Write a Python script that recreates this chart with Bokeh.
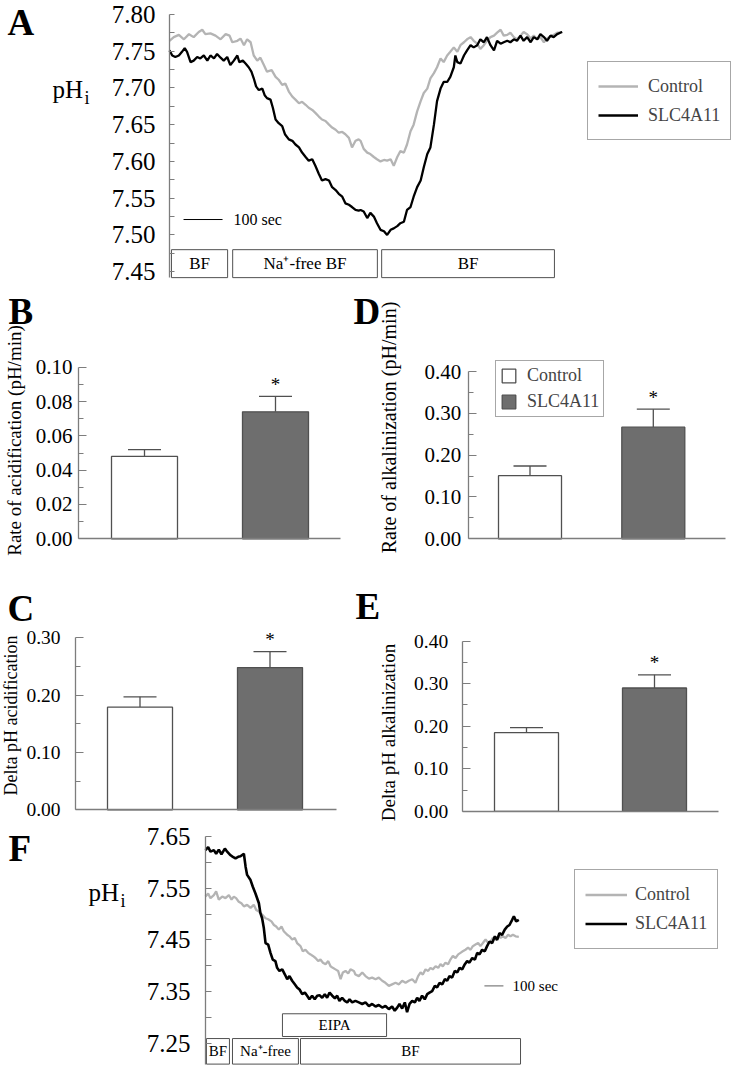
import math
from bokeh.plotting import figure
from bokeh.models import (Range1d, FixedTicker, PrintfTickFormatter, Label, Legend,
                          LegendItem, Whisker, TeeHead, ColumnDataSource)
from bokeh.layouts import column, row
from bokeh.embed import file_html
from bokeh.resources import INLINE
from bokeh.core.properties import value

# ---------------- Panel A: pHi traces (time in s, pHi) ----------------
A_CONTROL_T = [0, 11, 24, 37, 50, 62, 75, 84, 92, 105, 118, 131, 144, 154, 161, 174, 182, 191, 199, 208,
               216, 225, 233, 242, 250, 262, 272, 280, 289, 297, 306, 315, 323, 332, 340, 349, 357, 366,
               374, 383, 391, 400, 409, 417, 426, 434, 443, 451, 460, 468, 477, 485,
               490, 498, 507, 515, 524, 532, 541, 550, 558, 567, 575, 584, 592, 601, 609, 618, 626, 635,
               644, 652, 661, 669, 678, 686, 695, 703, 712, 720, 729, 738, 746, 755, 763, 772, 780, 789,
               797, 806, 814, 823, 832, 840, 849, 857, 866, 874, 883, 891, 900, 908, 917, 926, 934, 943,
               951, 960, 968, 977, 985, 994, 1002]
A_CONTROL_PH = [7.764, 7.769, 7.772, 7.766, 7.773, 7.769, 7.776, 7.779, 7.773, 7.774, 7.771, 7.766, 7.773,
                7.771, 7.762, 7.764, 7.767, 7.758, 7.766, 7.762, 7.744, 7.737, 7.741, 7.731, 7.722, 7.724,
                7.715, 7.711, 7.704, 7.706, 7.695, 7.688, 7.684, 7.679, 7.681, 7.677, 7.673, 7.670, 7.666,
                7.661, 7.657, 7.655, 7.650, 7.646, 7.643, 7.639, 7.640, 7.637, 7.632, 7.619, 7.628, 7.630,
                7.628, 7.617, 7.612, 7.610, 7.606, 7.603, 7.600, 7.602, 7.601, 7.603, 7.594, 7.606, 7.614,
                7.612, 7.623, 7.641, 7.650, 7.668, 7.682, 7.693, 7.699, 7.713, 7.720, 7.728, 7.740, 7.735,
                7.744, 7.749, 7.755, 7.749, 7.758, 7.762, 7.766, 7.769, 7.764, 7.760, 7.753, 7.758, 7.764,
                7.769, 7.771, 7.775, 7.779, 7.771, 7.772, 7.775, 7.769, 7.766, 7.771, 7.776, 7.773, 7.767,
                7.771, 7.766, 7.769, 7.762, 7.767, 7.770, 7.772, 7.775, 7.775]
A_SLC_T = [0, 7, 15, 24, 32, 39, 45, 54, 62, 71, 79, 88, 97, 105, 114, 122, 131, 139, 148, 156,
           165, 174, 179, 188, 195, 203, 210, 216, 222, 229, 238, 244, 250, 259, 265, 272, 280, 289, 296, 306,
           315, 323, 332, 340, 349, 357, 366, 374, 383, 391, 400, 409, 417, 426, 434, 443, 451, 460, 468, 477,
           485,
           490, 498, 507, 515, 524, 532, 541, 550, 558, 567, 575, 584, 592, 601, 609, 618, 626, 635, 644, 652,
           661, 669, 678, 686, 695, 703, 712, 720, 729, 733, 738, 746, 755, 763, 772, 780, 789, 797, 806, 814,
           823, 832, 840, 849, 857, 866, 874, 883, 891, 900, 908, 917, 926, 934, 943, 951, 960, 968, 977, 985,
           994, 1002, 1007]
A_SLC_PH = [7.751, 7.744, 7.742, 7.744, 7.749, 7.754, 7.749, 7.735, 7.737, 7.742, 7.740, 7.744, 7.737, 7.744,
            7.740, 7.746, 7.741, 7.737, 7.742, 7.731, 7.737, 7.744, 7.735, 7.737, 7.733, 7.728, 7.722, 7.713,
            7.702, 7.697, 7.699, 7.690, 7.686, 7.684, 7.673, 7.657, 7.652, 7.648, 7.637, 7.630, 7.628, 7.623,
            7.619, 7.612, 7.606, 7.601, 7.603, 7.594, 7.583, 7.574, 7.576, 7.574, 7.565, 7.561, 7.556, 7.552,
            7.543, 7.541, 7.538, 7.534, 7.533,
            7.534, 7.532, 7.523, 7.530, 7.525, 7.516, 7.507, 7.505, 7.500, 7.507, 7.509, 7.512, 7.516, 7.518,
            7.534, 7.538, 7.552, 7.565, 7.574, 7.592, 7.610, 7.619, 7.650, 7.682, 7.699, 7.708, 7.708, 7.715,
            7.728, 7.744, 7.735, 7.733, 7.744, 7.751, 7.758, 7.755, 7.758, 7.766, 7.762, 7.769, 7.758, 7.751,
            7.764, 7.760, 7.762, 7.764, 7.762, 7.766, 7.764, 7.771, 7.764, 7.769, 7.762, 7.769, 7.766, 7.773,
            7.769, 7.764, 7.771, 7.769, 7.773, 7.775, 7.776]
A_PERIODS = ["BF", "Na\u207a-free BF", "BF"]
A_PERIOD_START = [5, 162, 544]
A_PERIOD_END = [149, 533, 987]
A_TICKS = [7.45, 7.50, 7.55, 7.60, 7.65, 7.70, 7.75, 7.80]
A_MINOR = [7.475, 7.525, 7.575, 7.625, 7.675, 7.725, 7.775]

# ---------------- Panels B-E: bar charts ----------------
GROUPS = ["Control", "SLC4A11"]
SIGNIFICANT = [False, True]
B_RATE_ACIDIFICATION = [0.048, 0.074]
B_SEM = [0.004, 0.009]
D_RATE_ALKALINIZATION = [0.151, 0.267]
D_SEM = [0.023, 0.043]
C_DELTA_PH_ACIDIFICATION = [0.179, 0.248]
C_SEM = [0.018, 0.028]
E_DELTA_PH_ALKALINIZATION = [0.185, 0.290]
E_SEM = [0.012, 0.031]
B_TICKS = [0.0, 0.02, 0.04, 0.06, 0.08, 0.10]
B_MINOR = [0.01, 0.03, 0.05, 0.07, 0.09]
D_TICKS = [0.0, 0.1, 0.2, 0.3, 0.4]
D_MINOR = [0.05, 0.15, 0.25, 0.35]
C_TICKS = [0.0, 0.1, 0.2, 0.3]
C_MINOR = [0.05, 0.15, 0.25]
E_TICKS = [0.0, 0.1, 0.2, 0.3, 0.4]
E_MINOR = [0.05, 0.15, 0.25, 0.35]

# ---------------- Panel F: pHi traces with EIPA ----------------
F_CONTROL_T = [0, 14, 26, 44, 56, 70, 88, 105, 123, 137, 149, 161, 175, 189, 202, 219, 237, 254, 267, 281,
               298, 316, 330, 347, 360, 372, 386, 400, 412, 430, 442, 456, 470, 482, 500, 512, 526, 540, 553,
               565, 579, 593, 605, 618, 632, 646, 658, 670, 684, 698, 711, 723, 737, 751, 763, 781,
               789, 807, 825, 842, 860, 877, 895, 912, 930, 947, 965, 982, 1000, 1018, 1035, 1053, 1070, 1088,
               1105, 1119, 1132, 1144, 1158, 1172, 1184, 1196, 1211, 1225, 1237, 1249, 1263, 1277, 1289, 1302,
               1316, 1330, 1342, 1354, 1368, 1382, 1395, 1407, 1421, 1435, 1447, 1460, 1474, 1488, 1500, 1512,
               1526, 1540, 1553, 1565, 1579, 1593, 1605, 1618, 1632, 1649]
F_CONTROL_PH = [7.534, 7.540, 7.531, 7.537, 7.544, 7.528, 7.534, 7.531, 7.537, 7.528, 7.534, 7.531, 7.524,
                7.521, 7.515, 7.518, 7.512, 7.518, 7.508, 7.505, 7.499, 7.492, 7.490, 7.486, 7.479, 7.476,
                7.470, 7.476, 7.467, 7.460, 7.457, 7.451, 7.454, 7.444, 7.438, 7.428, 7.431, 7.425, 7.422,
                7.419, 7.415, 7.409, 7.412, 7.406, 7.403, 7.409, 7.399, 7.396, 7.393, 7.390, 7.374, 7.387,
                7.390, 7.385, 7.393, 7.390,
                7.383, 7.380, 7.387, 7.380, 7.375, 7.377, 7.374, 7.377, 7.371, 7.367, 7.361, 7.364, 7.367,
                7.364, 7.371, 7.367, 7.371, 7.374, 7.367, 7.380, 7.387, 7.383, 7.393, 7.390, 7.396, 7.393,
                7.399, 7.396, 7.403, 7.399, 7.406, 7.403, 7.412, 7.419, 7.415, 7.422, 7.425, 7.428, 7.431,
                7.435, 7.431, 7.438, 7.441, 7.444, 7.438, 7.444, 7.451, 7.444, 7.447, 7.454, 7.451, 7.457,
                7.454, 7.457, 7.454, 7.460, 7.457, 7.460, 7.457, 7.456]
F_SLC_T = [0, 14, 26, 44, 56, 70, 84, 102, 114, 132, 144, 158, 172, 184, 202, 211, 219, 237, 249, 263,
           281, 289, 298, 307, 316, 330, 342, 354, 368, 377, 389, 404, 418, 430, 442, 456, 470, 482, 495, 509,
           523, 535, 547, 561, 575, 588, 600, 614, 628, 640, 653, 667, 681, 693, 705, 719, 733, 746, 758, 772,
           789, 807, 825, 842, 860, 877, 895, 912, 930, 947, 965, 982, 996, 1009, 1021, 1035, 1049, 1061,
           1074, 1088, 1102, 1114, 1126, 1140, 1154, 1167, 1179, 1193, 1207, 1219, 1232, 1246, 1260, 1272,
           1284, 1298, 1312, 1325, 1337, 1351, 1365, 1377, 1389, 1404, 1418, 1430, 1442, 1456, 1470, 1482,
           1495, 1509, 1523, 1535, 1547, 1561, 1575, 1588, 1600, 1614, 1623, 1635, 1649]
F_SLC_PH = [7.624, 7.630, 7.621, 7.624, 7.617, 7.625, 7.616, 7.627, 7.621, 7.614, 7.611, 7.608, 7.611, 7.612,
            7.617, 7.592, 7.576, 7.566, 7.553, 7.540, 7.521, 7.502, 7.492, 7.473, 7.444, 7.441, 7.425, 7.412,
            7.409, 7.396, 7.390, 7.393, 7.383, 7.374, 7.380, 7.371, 7.364, 7.358, 7.354, 7.345, 7.348, 7.342,
            7.335, 7.342, 7.335, 7.342, 7.343, 7.338, 7.345, 7.338, 7.348, 7.342, 7.337, 7.342, 7.332, 7.338,
            7.332, 7.329, 7.335, 7.329,
            7.332, 7.329, 7.326, 7.329, 7.322, 7.326, 7.321, 7.324, 7.319, 7.322, 7.316, 7.321, 7.313, 7.319,
            7.326, 7.317, 7.329, 7.310, 7.326, 7.332, 7.329, 7.338, 7.332, 7.342, 7.335, 7.345, 7.348, 7.351,
            7.361, 7.358, 7.367, 7.364, 7.374, 7.371, 7.380, 7.377, 7.390, 7.387, 7.396, 7.393, 7.403, 7.409,
            7.406, 7.415, 7.412, 7.425, 7.422, 7.431, 7.428, 7.438, 7.447, 7.444, 7.457, 7.450, 7.463, 7.460,
            7.470, 7.476, 7.479, 7.489, 7.496, 7.486, 7.489]
F_PERIODS = ["BF", "Na\u207a-free", "BF"]
F_PERIOD_START = [5, 142, 500]
F_PERIOD_END = [126, 489, 1658]
F_DRUG = ["EIPA"]
F_DRUG_START = [405]
F_DRUG_END = [953]
F_TICKS = [7.25, 7.35, 7.45, 7.55, 7.65]
F_MINOR = [7.30, 7.40, 7.50, 7.60]

SCALE_SEC = 100

# ---------------- styling ----------------
SERIF = "Liberation Serif"
AXIS_GRAY = "#7d7d7d"
EDGE = "#505050"
CTRL_COLOR = "#b4b4b4"
SLC_COLOR = "#000000"
BAR_FILLS = ["#ffffff", "#6e6e6e"]


def x_range_px(width, px_a, val_a, px_b, val_b):
    k = (val_b - val_a) / (px_b - px_a)
    return Range1d(val_a - px_a * k, val_a + (width - px_a) * k)


def y_range_px(height, py_a, val_a, py_b, val_b):
    # py measured downward from the top edge of the canvas
    k = (val_b - val_a) / (py_b - py_a)
    return Range1d(val_a + (height - py_a) * k, val_a - py_a * k)


def px_to_x(rng, width, px):
    return rng.start + (rng.end - rng.start) * px / width


def base_fig(w, h, xr, yr, xaxis=True):
    p = figure(width=w, height=h, x_range=xr, y_range=yr, output_backend="svg",
               toolbar_location=None, x_axis_location=("below" if xaxis else None), min_border=0)
    p.outline_line_color = None
    p.grid.visible = False
    p.background_fill_color = "white"
    p.border_fill_color = "white"
    return p


def style_y(p, loc, bounds, major, minor, font_px, standoff, tick_in, minor_in):
    ax = p.yaxis[0]
    ax.fixed_location = loc
    ax.bounds = bounds
    ax.ticker = FixedTicker(ticks=major, minor_ticks=minor)
    ax.formatter = PrintfTickFormatter(format="%.2f")
    ax.axis_line_color = AXIS_GRAY
    ax.axis_line_width = 1.3
    ax.major_tick_line_color = AXIS_GRAY
    ax.minor_tick_line_color = AXIS_GRAY
    ax.major_tick_line_width = 1.2
    ax.minor_tick_line_width = 1.2
    ax.major_tick_in = tick_in
    ax.major_tick_out = 0
    ax.minor_tick_in = minor_in
    ax.minor_tick_out = 0
    ax.major_label_standoff = standoff
    ax.major_label_text_font = SERIF
    ax.major_label_text_font_size = f"{font_px}px"
    ax.major_label_text_color = "black"


def letter(p, txt, x, y_mid):
    p.add_layout(Label(x=x, y=y_mid, x_units="screen", y_units="screen", text=txt, text_font=SERIF,
                       text_font_style="bold", text_font_size="37px", text_baseline="middle",
                       text_align="left", text_color="black"))


def ylabel(p, txt, x, y, size):
    p.add_layout(Label(x=x, y=y, x_units="screen", y_units="screen", text=txt, angle=math.pi / 2,
                       text_font=SERIF, text_font_size=f"{size}px", text_align="center",
                       text_baseline="middle", text_color="black"))


def ph_label(p, x, y_mid):
    p.add_layout(Label(x=x, y=y_mid, x_units="screen", y_units="screen", text="pH", text_font=SERIF,
                       text_font_size="25px", text_baseline="middle", text_color="black"))
    p.add_layout(Label(x=x + 32, y=y_mid - 8, x_units="screen", y_units="screen", text="i",
                       text_font=SERIF, text_font_size="18px", text_baseline="middle", text_color="black"))


def bar_panel(w, h, cx1, cx2, py_top, top_val, py_zero, axis_px0, axis_px1, bar_px,
              major, minor, tick_px, standoff, means, errs):
    xr = x_range_px(w, cx1, 1, cx2, 2)
    yr = y_range_px(h, py_top, top_val, py_zero, 0.0)
    p = base_fig(w, h, xr, yr)
    x0 = px_to_x(xr, w, axis_px0)
    x1 = px_to_x(xr, w, axis_px1)
    style_y(p, x0, (0, top_val * 1.0005), major, minor, tick_px, standoff, 8, 5)
    xa = p.xaxis[0]
    xa.fixed_location = 0
    xa.bounds = (x0, x1)
    xa.ticker = FixedTicker(ticks=[])
    xa.major_tick_line_color = None
    xa.minor_tick_line_color = None
    xa.major_label_standoff = 0
    xa.major_label_text_font_size = "0px"
    xa.axis_line_color = AXIS_GRAY
    xa.axis_line_width = 1.3
    xpos = list(range(1, len(GROUPS) + 1))
    upper = [m + e for m, e in zip(means, errs)]
    src = ColumnDataSource(dict(x=xpos, top=means, upper=upper, fill=BAR_FILLS[:len(GROUPS)],
                                group=GROUPS))
    r = p.vbar(x="x", top="top", bottom=0, width=bar_px / (cx2 - cx1), fill_color="fill",
               line_color=EDGE, line_width=1.3, source=src)
    p.add_layout(Whisker(base="x", lower="top", upper="upper", source=src, dimension="height",
                         line_color=EDGE, line_width=1.3, lower_head=None,
                         upper_head=TeeHead(size=33, line_color=EDGE, line_width=1.3)))
    per_px = top_val / (py_zero - py_top)
    for xi, u, sig in zip(xpos, upper, SIGNIFICANT):
        if sig:
            p.add_layout(Label(x=xi, y=u + 12 * per_px, text="*", text_align="center",
                               text_baseline="middle", text_font=SERIF, text_font_size="19px",
                               text_color="black"))
    return p, r


def legend(items, loc, pad, spacing, gw, gh, standoff):
    return Legend(items=items, location=loc, orientation="vertical", padding=pad, spacing=spacing,
                  margin=0, glyph_width=gw, glyph_height=gh, label_height=gh, label_standoff=standoff,
                  label_text_font=SERIF, label_text_font_size="18px", border_line_color=EDGE,
                  border_line_width=1, background_fill_alpha=1.0)


# ---------------- Panel A (canvas 733 x 287) ----------------
WA, HA = 733, 287
pA = base_fig(WA, HA, x_range_px(WA, 169, 0, 169 + 0.39 * SCALE_SEC, SCALE_SEC),
              y_range_px(HA, 13.8, 7.80, 271.25, 7.45), xaxis=False)
style_y(pA, 0, (7.442, 7.8001), A_TICKS, A_MINOR, 25, 14, 5, 5)
A_BOX_LO, A_BOX_HI = 7.442, 7.480
pA.quad(left=A_PERIOD_START, right=A_PERIOD_END, bottom=A_BOX_LO, top=A_BOX_HI,
        fill_color="white", line_color=EDGE, line_width=1)
pA.text(x=[(s + e) / 2 for s, e in zip(A_PERIOD_START, A_PERIOD_END)],
        y=[(A_BOX_LO + A_BOX_HI) / 2] * len(A_PERIODS), text=A_PERIODS, text_align="center",
        text_baseline="middle", text_font=value(SERIF), text_font_size="17px", text_color="black")
rAc = pA.line(A_CONTROL_T, A_CONTROL_PH, line_color=CTRL_COLOR, line_width=2.3)
rAs = pA.line(A_SLC_T, A_SLC_PH, line_color=SLC_COLOR, line_width=2.3)
A_BAR_T0, A_BAR_PH = 36, 7.521
pA.line([A_BAR_T0, A_BAR_T0 + SCALE_SEC], [A_BAR_PH, A_BAR_PH], line_color="black", line_width=1)
pA.text(x=[A_BAR_T0 + SCALE_SEC + 28], y=[A_BAR_PH], text=[f"{SCALE_SEC} sec"], text_align="left",
        text_baseline="middle", text_font=value(SERIF), text_font_size="16px", text_color="black")
pA.add_layout(legend([LegendItem(label=GROUPS[0], renderers=[rAc]),
                      LegendItem(label=GROUPS[1], renderers=[rAs])],
                     (587, HA - 140), 10, 1, 40, 28, 10))
letter(pA, "A", 7, HA - 21.5)
ph_label(pA, 52, HA - 89)

# ---------------- Panels B, D (row at y = 287, height 270) ----------------
HB = 270
pB, _ = bar_panel(345, HB, 144, 275, 79.7, 0.10, 251.3, 78, 340, 66,
                  B_TICKS, B_MINOR, 21, 6, B_RATE_ACIDIFICATION, B_SEM)
letter(pB, "B", 8, HB - 23.5)
ylabel(pB, "Rate of acidification (pH/min)", 13.5, 117, 19)

pD, rD = bar_panel(388, HB, 184.5, 307.8, 84, 0.40, 251.3, 122.7, 380, 63,
                   D_TICKS, D_MINOR, 21, 7, D_RATE_ALKALINIZATION, D_SEM)
letter(pD, "D", 8, HB - 23.5)
ylabel(pD, "Rate of alkalinization (pH/min)", 43, 130, 20)
pD.add_layout(legend([LegendItem(label=GROUPS[0], renderers=[rD], index=0),
                      LegendItem(label=GROUPS[1], renderers=[rD], index=1)],
                     (150, 140), 4, 5, 17, 17, 10))

# ---------------- Panels C, E (row at y = 557, height 265) ----------------
HC = 265
pC, _ = bar_panel(345, HC, 139.5, 269.5, 80.3, 0.30, 252.3, 75, 336, 65,
                  C_TICKS, C_MINOR, 19.5, 15, C_DELTA_PH_ACIDIFICATION, C_SEM)
letter(pC, "C", 7, HC - 50.5)
ylabel(pC, "Delta pH acidification", 10, 107, 18)

pE, _ = bar_panel(388, HC, 181, 309, 83.7, 0.40, 253.8, 116.7, 373, 64,
                  E_TICKS, E_MINOR, 19.5, 14, E_DELTA_PH_ALKALINIZATION, E_SEM)
letter(pE, "E", 10, HC - 48.5)
ylabel(pE, "Delta pH alkalinization", 43, 90, 19)

# ---------------- Panel F (row at y = 822, height 243) ----------------
WF, HF = 733, 243
pF = base_fig(WF, HF, x_range_px(WF, 205, 0, 205 + 0.19 * SCALE_SEC, SCALE_SEC),
              y_range_px(HF, 14.2, 7.65, 220.7, 7.25), xaxis=False)
style_y(pF, 0, (7.2095, 7.6501), F_TICKS, F_MINOR, 25, 15, 6, 6)
F_BOX_LO, F_BOX_HI = 7.2095, 7.259
F_DRUG_LO, F_DRUG_HI = 7.263, 7.307
pF.quad(left=F_PERIOD_START, right=F_PERIOD_END, bottom=F_BOX_LO, top=F_BOX_HI,
        fill_color="white", line_color=EDGE, line_width=1)
pF.quad(left=F_DRUG_START, right=F_DRUG_END, bottom=F_DRUG_LO, top=F_DRUG_HI,
        fill_color="white", line_color=EDGE, line_width=1)
pF.text(x=[(s + e) / 2 for s, e in zip(F_PERIOD_START, F_PERIOD_END)],
        y=[(F_BOX_LO + F_BOX_HI) / 2] * len(F_PERIODS), text=F_PERIODS, text_align="center",
        text_baseline="middle", text_font=value(SERIF), text_font_size="15px", text_color="black")
pF.text(x=[(s + e) / 2 for s, e in zip(F_DRUG_START, F_DRUG_END)],
        y=[(F_DRUG_LO + F_DRUG_HI) / 2] * len(F_DRUG), text=F_DRUG, text_align="center",
        text_baseline="middle", text_font=value(SERIF), text_font_size="15px", text_color="black")
rFc = pF.line(F_CONTROL_T, F_CONTROL_PH, line_color=CTRL_COLOR, line_width=2.3)
rFs = pF.line(F_SLC_T, F_SLC_PH, line_color=SLC_COLOR, line_width=2.6)
F_BAR_T0, F_BAR_PH = 1468, 7.361
pF.line([F_BAR_T0, F_BAR_T0 + SCALE_SEC], [F_BAR_PH, F_BAR_PH], line_color="#808080", line_width=1.2)
pF.text(x=[F_BAR_T0 + SCALE_SEC + 48], y=[F_BAR_PH], text=[f"{SCALE_SEC} sec"], text_align="left",
        text_baseline="middle", text_font=value(SERIF), text_font_size="15px", text_color="black")
pF.add_layout(legend([LegendItem(label=GROUPS[0], renderers=[rFc]),
                      LegendItem(label=GROUPS[1], renderers=[rFs])],
                     (574, HF - 127), 10, 0, 42, 29, 8))
letter(pF, "F", 8, HF - 25.5)
ph_label(pF, 88, HF - 70)

layout = column(pA, row(pB, pD), row(pC, pE), pF)
open("out.html", "w").write(file_html(layout, INLINE))
